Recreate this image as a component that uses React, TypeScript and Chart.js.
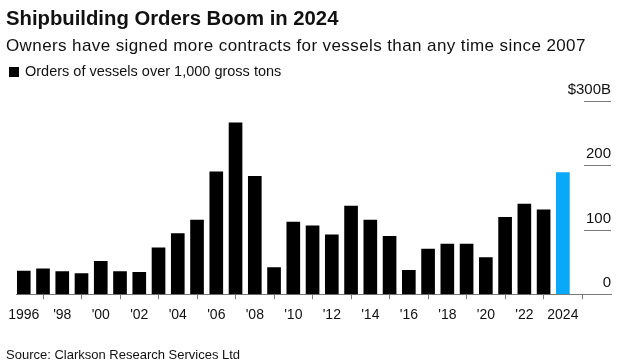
import React, { useEffect, useRef } from "react";
import { Chart, registerables } from "chart.js";

Chart.register(...registerables);

const years: number[] = [
  1996, 1997, 1998, 1999, 2000, 2001, 2002, 2003, 2004, 2005, 2006, 2007, 2008, 2009, 2010,
  2011, 2012, 2013, 2014, 2015, 2016, 2017, 2018, 2019, 2020, 2021, 2022, 2023, 2024,
];
const orders: number[] = [
  36, 39.5, 35, 32, 51, 35, 34, 72, 94, 115, 190, 266, 183, 41.5, 112,
  106, 92, 137, 115, 90, 37, 70, 78, 78, 57, 119.5, 140, 131, 189,
];
const yTicks: number[] = [0, 100, 200, 300];
const yTickLabels: string[] = ["0", "100", "200", "$300B"];
const xTickYears: number[] = [1996, 1998, 2000, 2002, 2004, 2006, 2008, 2010, 2012, 2014, 2016, 2018, 2020, 2022, 2024];

const title = "Shipbuilding Orders Boom in 2024";
const subtitle = "Owners have signed more contracts for vessels than any time since 2007";
const legendLabel = "Orders of vessels over 1,000 gross tons";
const source = "Source: Clarkson Research Services Ltd";

const FONT = "'Liberation Sans', Arial, Helvetica, sans-serif";
const BLACK = "#000000";
const BLUE = "#0AA8F8";
const GRID = "#7a7a7a";

const rightGridPlugin = {
  id: "rightGrid",
  afterDatasetsDraw(chart: any) {
    const { ctx, chartArea, scales } = chart;
    const y = scales.y;
    ctx.save();
    ctx.strokeStyle = GRID;
    ctx.lineWidth = 1;
    ctx.fillStyle = "#111";
    ctx.font = `15px ${FONT}`;
    ctx.textAlign = "right";
    ctx.textBaseline = "alphabetic";
    yTicks.forEach((v, i) => {
      const py = Math.round(y.getPixelForValue(v)) + 0.5;
      if (v !== 0) {
        ctx.beginPath();
        ctx.moveTo(chartArea.right - 27, py);
        ctx.lineTo(chartArea.right, py);
        ctx.stroke();
      }
      ctx.fillText(yTickLabels[i], chartArea.right, py - 8);
    });
    ctx.restore();
  },
};

export default function App() {
  const ref = useRef<HTMLCanvasElement | null>(null);

  useEffect(() => {
    if (!ref.current) return;
    const chart = new Chart(ref.current, {
      type: "bar",
      data: {
        datasets: [
          {
            label: legendLabel,
            data: years.map((yr, i) => ({ x: yr, y: orders[i] })),
            backgroundColor: years.map((yr) => (yr === 2024 ? BLUE : BLACK)),
            barThickness: 13,
          },
        ],
      },
      options: {
        animation: false,
        responsive: false,
        maintainAspectRatio: false,
        layout: { padding: { left: 15, right: 19, top: 101, bottom: 31 } },
        plugins: {
          legend: { display: false },
          tooltip: { enabled: false },
          title: { display: false },
        },
        scales: {
          x: {
            type: "linear",
            min: 1995.64,
            max: 2026.5,
            offset: false,
            afterBuildTicks: (axis: any) => {
              axis.ticks = xTickYears.map((v) => ({ value: v }));
            },
            ticks: {
              autoSkip: false,
              maxRotation: 0,
              padding: 8,
              color: "#111",
              font: { family: FONT, size: 14 },
              callback: (v: any) => {
                const n = Number(v);
                if (n === 1996 || n === 2024) return String(n);
                return "'" + String(n).slice(2);
              },
            },
            grid: {
              drawOnChartArea: false,
              drawTicks: true,
              tickLength: 5,
              color: GRID,
            },
            border: { display: true, color: GRID, width: 1 },
          },
          y: {
            display: false,
            min: 0,
            max: 300,
          },
        },
      },
      plugins: [rightGridPlugin],
    });
    return () => chart.destroy();
  }, []);

  const textBase: React.CSSProperties = {
    position: "absolute",
    left: 6,
    margin: 0,
    fontFamily: FONT,
    color: "#111",
    whiteSpace: "nowrap",
    lineHeight: "normal",
  };

  return (
    <div style={{ position: "absolute", left: 0, top: 0, width: 630, height: 363, background: "#fff", overflow: "hidden" }}>
      <canvas ref={ref} width={630} height={363} style={{ position: "absolute", left: 0, top: 0 }} />
      <div style={{ ...textBase, top: 7, fontSize: 20.3, fontWeight: 700 }}>{title}</div>
      <div style={{ ...textBase, top: 36, fontSize: 17, letterSpacing: 0.4 }}>{subtitle}</div>
      <div style={{ ...textBase, left: 9, top: 63, fontSize: 14.5 }}>
        <span style={{ display: "inline-block", width: 10, height: 10, background: BLACK, marginRight: 6, verticalAlign: "-1px" }} />
        {legendLabel}
      </div>
      <div style={{ ...textBase, top: 347, fontSize: 13 }}>{source}</div>
    </div>
  );
}
